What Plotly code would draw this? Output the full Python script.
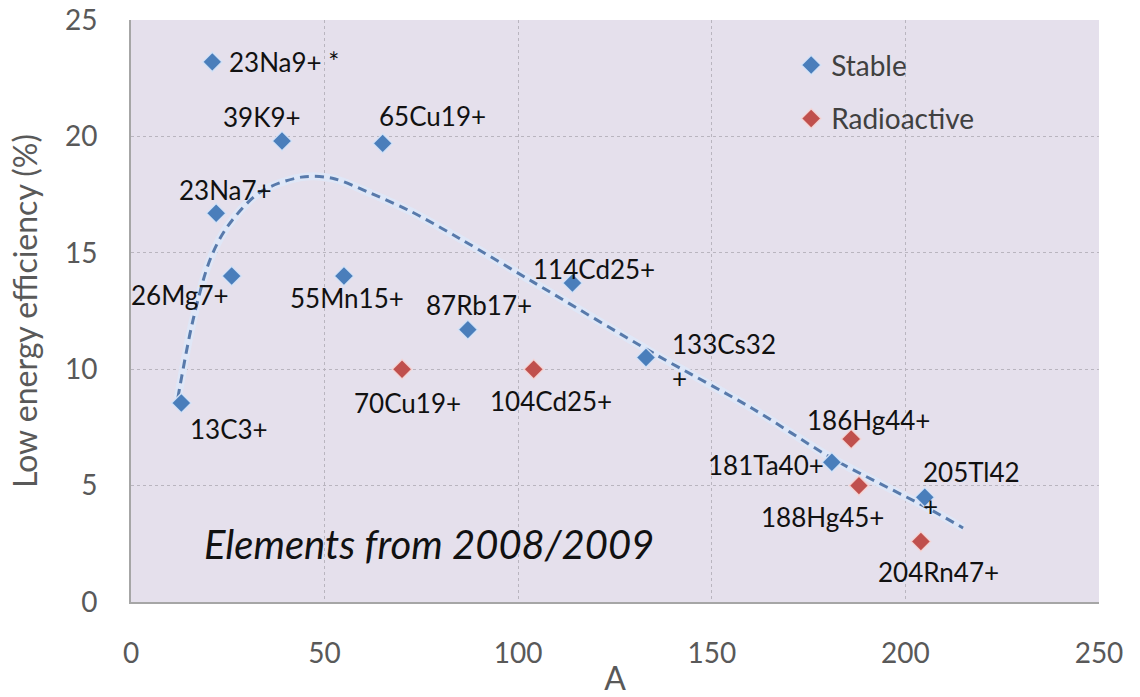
import plotly.graph_objects as go

# Stable isotopes: mass number A and low energy efficiency (%)
stable_labels = ["23Na9+ *", "23Na7+", "13C3+", "26Mg7+", "39K9+", "55Mn15+", "65Cu19+",
                 "87Rb17+", "114Cd25+", "133Cs32<br>+", "181Ta40+", "205Tl42<br>+"]
stable_A = [21, 22, 13, 26, 39, 55, 65, 87, 114, 133, 181, 205]
stable_eff = [23.2, 16.7, 8.55, 14.0, 19.8, 14.0, 19.7, 11.7, 13.7, 10.5, 6.0, 4.5]

# Radioactive isotopes
radio_labels = ["70Cu19+", "104Cd25+", "186Hg44+", "188Hg45+", "204Rn47+"]
radio_A = [70, 104, 186, 188, 204]
radio_eff = [10.0, 10.0, 7.0, 5.0, 2.6]

# Trend curve through the data
trend_A = [12.1, 16.0, 20.4, 24.8, 33.3, 44.0, 52.0, 62.0, 72.0, 85.0, 103.8,
           134.8, 160.6, 181.3, 205.6, 214.9]
trend_eff = [8.76, 12.1, 14.7, 16.1, 17.6, 18.25, 18.2, 17.55, 16.8, 15.6, 13.75,
             10.7, 8.3, 6.15, 4.05, 3.18]

# Label placement: (x shift px, y shift px, xanchor, align)
stable_label_pos = [(15, 0, "left", "left"), (9, 23, "center", "center"),
                    (48, -26, "center", "center"), (-52, -19, "center", "center"),
                    (-20, 24, "center", "center"), (3, -22, "center", "center"),
                    (50, 27, "center", "center"), (11, 25, "center", "center"),
                    (22, 14, "center", "center"), (24, -3, "left", "left"),
                    (-6, -3, "right", "center"), (-4, 8, "left", "left")]
radio_label_pos = [(5, -34, "center", "center"), (17, -32, "center", "center"),
                   (17, 19, "center", "center"), (-36, -31, "center", "center"),
                   (18, -31, "center", "center")]

BLUE = "#4a7ebb"
RED = "#c0504d"
FONT = "Lato"

fig = go.Figure()

# soft glow under the trend line
fig.add_trace(go.Scatter(x=trend_A, y=trend_eff, mode="lines", showlegend=False,
                         hoverinfo="skip", line=dict(color="rgba(222,232,248,0.9)", width=8,
                                                     shape="spline", smoothing=0.9)))
fig.add_trace(go.Scatter(x=trend_A, y=trend_eff, mode="lines", showlegend=False,
                         hoverinfo="skip", line=dict(color="#587aab", width=3, dash="9px,6px",
                                                     shape="spline", smoothing=0.9)))

fig.add_trace(go.Scatter(x=stable_A, y=stable_eff, mode="markers", name="Stable",
                         legendgroup="s",
                         marker=dict(symbol="diamond", size=15, color=BLUE,
                                     line=dict(color="rgba(215,228,248,0.9)", width=1.5))))
fig.add_trace(go.Scatter(x=radio_A, y=radio_eff, mode="markers", name="Radioactive",
                         legendgroup="r",
                         marker=dict(symbol="diamond", size=15, color=RED,
                                     line=dict(color="rgba(245,215,215,0.9)", width=1.5))))

annotations = []
for lab, xa, ya, (dx, dy, xa_anchor, al) in zip(stable_labels + radio_labels,
                                                stable_A + radio_A,
                                                stable_eff + radio_eff,
                                                stable_label_pos + radio_label_pos):
    annotations.append(dict(x=xa, y=ya, xref="x", yref="y", text=lab, showarrow=False,
                            xanchor=xa_anchor, yanchor="middle", align=al,
                            xshift=dx, yshift=dy,
                            font=dict(family=FONT, size=26, color="#111111")))

annotations.append(dict(x=77, y=2.5, xref="x", yref="y", text="<i>Elements from 2008/2009</i>",
                        showarrow=False, xanchor="center", yanchor="middle",
                        font=dict(family=FONT, size=40, color="#111111")))

fig.update_layout(
    width=1140, height=697,
    margin=dict(l=131, r=41, t=20, b=95, autoexpand=False),
    paper_bgcolor="white",
    plot_bgcolor="#e5e0ec",
    font=dict(family=FONT, color="#595959"),
    annotations=annotations,
    legend=dict(x=0.682, y=0.965, xanchor="left", yanchor="top",
                bgcolor="rgba(0,0,0,0)", tracegroupgap=14,
                font=dict(family=FONT, size=28, color="#404040")),
    xaxis=dict(range=[0, 250], tick0=0, dtick=50, showgrid=True, gridcolor="#b9b5bf",
               griddash="dot", gridwidth=1, zeroline=False, showline=True,
               linecolor="#a6a6a6", linewidth=2, ticks="", ticklabelstandoff=25,
               automargin=False,
               tickfont=dict(family=FONT, size=28, color="#595959"),
               title=dict(text="A", standoff=4,
                          font=dict(family=FONT, size=32, color="#595959"))),
    yaxis=dict(range=[0, 25], tick0=0, dtick=5, showgrid=True, gridcolor="#b9b5bf",
               griddash="dot", gridwidth=1, zeroline=False, showline=True,
               linecolor="#a6a6a6", linewidth=2, ticks="", ticklabelstandoff=26,
               automargin=False,
               tickfont=dict(family=FONT, size=28, color="#595959"),
               title=dict(text="Low energy efficiency (%)", standoff=18,
                          font=dict(family=FONT, size=32, color="#595959"))),
)

fig.write_html("out.html")
